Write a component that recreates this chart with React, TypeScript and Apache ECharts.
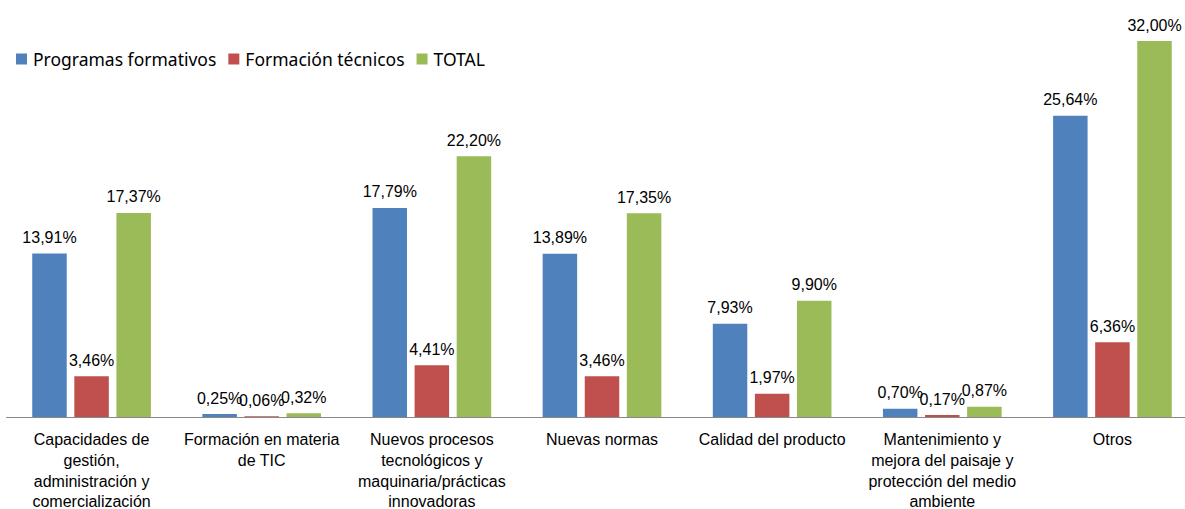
import React, { useEffect, useRef } from "react";
import * as echarts from "echarts";

const categories = [
  "Capacidades de\ngestión,\nadministración y\ncomercialización",
  "Formación en materia\nde TIC",
  "Nuevos procesos\ntecnológicos y\nmaquinaria/prácticas\ninnovadoras",
  "Nuevas normas",
  "Calidad del producto",
  "Mantenimiento y\nmejora del paisaje y\nprotección del medio\nambiente",
  "Otros",
];

const seriesNames = ["Programas formativos", "Formación técnicos", "TOTAL"];
const programas = [13.91, 0.25, 17.79, 13.89, 7.93, 0.7, 25.64];
const tecnicos = [3.46, 0.06, 4.41, 3.46, 1.97, 0.17, 6.36];
const total = [17.37, 0.32, 22.2, 17.35, 9.9, 0.87, 32.0];
const colors = ["#4F81BD", "#C0504D", "#9BBB59"];

const fmt = (v: number) => v.toFixed(2).replace(".", ",") + "%";

export default function App() {
  const ref = useRef<HTMLDivElement>(null);
  useEffect(() => {
    if (!ref.current) return;
    const chart = echarts.init(ref.current, undefined, { renderer: "svg" });
    const valueSets = [programas, tecnicos, total];
    chart.setOption({
      animation: false,
      legend: {
        left: 11,
        top: 45,
        itemWidth: 11,
        itemHeight: 11,
        itemGap: 12,
        icon: "rect",
        textStyle: {
          fontFamily: "Noto Sans",
          fontSize: 17.5,
          color: "#000",
          padding: [0, 0, 0, 1],
        },
        data: seriesNames,
      },
      grid: {
        left: 6.5,
        top: 5.75,
        width: 1191,
        height: 411.25,
        containLabel: false,
        outerBoundsMode: "none",
      },
      xAxis: {
        type: "category",
        data: categories,
        axisLine: { show: true, lineStyle: { color: "#888888", width: 1 } },
        axisTick: { show: false },
        axisLabel: {
          interval: 0,
          margin: 12,
          fontFamily: "Liberation Sans, Arial",
          fontSize: 16,
          lineHeight: 20.8,
          color: "#000",
        },
      },
      yAxis: {
        type: "value",
        min: 0,
        max: 35,
        show: false,
        splitLine: { show: false },
      },
      series: seriesNames.map((name, i) => ({
        name,
        type: "bar",
        data: valueSets[i],
        barWidth: 34.5,
        barGap: "22%",
        itemStyle: { color: colors[i] },
        label: {
          show: true,
          position: "top",
          distance: 8,
          fontFamily: "Liberation Sans, Arial",
          fontSize: 16,
          color: "#000",
          formatter: (p: any) => fmt(p.value),
        },
      })),
    });
    return () => chart.dispose();
  }, []);
  return (
    <div
      style={{
        position: "fixed",
        left: 0,
        top: 0,
        width: 1185,
        height: 509,
        overflow: "hidden",
        background: "#fff",
      }}
    >
      <div ref={ref} style={{ width: 1185, height: 509 }} />
    </div>
  );
}
